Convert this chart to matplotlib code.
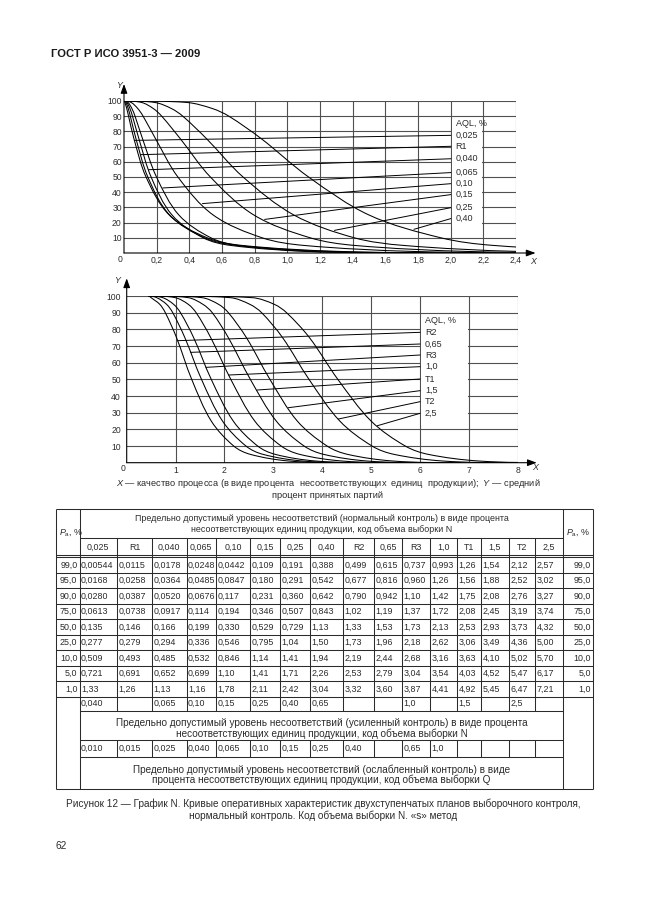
import numpy as np
import matplotlib.pyplot as plt
from matplotlib.patches import Rectangle, PathPatch
from matplotlib.path import Path

plt.rcParams["font.family"] = ["Liberation Sans", "DejaVu Sans"]
plt.rcParams["mathtext.fontset"] = "custom"
plt.rcParams["mathtext.rm"] = "Liberation Sans"
plt.rcParams["mathtext.it"] = "Liberation Sans:italic"

W, H = 646, 913
ink = "#2b2b2b"
grid_c = "#505050"

# ---------------------------------------------------------------
# data (read from the table of the page)
# ---------------------------------------------------------------
pa_levels = ["99,0", "95,0", "90,0", "75,0", "50,0", "25,0", "10,0", "5,0", "1,0"]
aql_labels = ["0,025", "R1", "0,040", "0,065", "0,10", "0,15", "0,25", "0,40",
              "R2", "0,65", "R3", "1,0", "T1", "1,5", "T2", "2,5"]

x_0025 = ["0,00544", "0,0168", "0,0280", "0,0613", "0,135", "0,277", "0,509", "0,721", "1,33"]
x_r1 = ["0,0115", "0,0258", "0,0387", "0,0738", "0,146", "0,279", "0,493", "0,691", "1,26"]
x_0040 = ["0,0178", "0,0364", "0,0520", "0,0917", "0,166", "0,294", "0,485", "0,652", "1,13"]
x_0065 = ["0,0248", "0,0485", "0,0676", "0,114", "0,199", "0,336", "0,532", "0,699", "1,16"]
x_010 = ["0,0442", "0,0847", "0,117", "0,194", "0,330", "0,546", "0,846", "1,10", "1,78"]
x_015 = ["0,109", "0,180", "0,231", "0,346", "0,529", "0,795", "1,14", "1,41", "2,11"]
x_025 = ["0,191", "0,291", "0,360", "0,507", "0,729", "1,04", "1,41", "1,71", "2,42"]
x_040 = ["0,388", "0,542", "0,642", "0,843", "1,13", "1,50", "1,94", "2,26", "3,04"]
x_r2 = ["0,499", "0,677", "0,790", "1,02", "1,33", "1,73", "2,19", "2,53", "3,32"]
x_065 = ["0,615", "0,816", "0,942", "1,19", "1,53", "1,96", "2,44", "2,79", "3,60"]
x_r3 = ["0,737", "0,960", "1,10", "1,37", "1,73", "2,18", "2,68", "3,04", "3,87"]
x_10 = ["0,993", "1,26", "1,42", "1,72", "2,13", "2,62", "3,16", "3,54", "4,41"]
x_t1 = ["1,26", "1,56", "1,75", "2,08", "2,53", "3,06", "3,63", "4,03", "4,92"]
x_15 = ["1,54", "1,88", "2,08", "2,45", "2,93", "3,49", "4,10", "4,52", "5,45"]
x_t2 = ["2,12", "2,52", "2,76", "3,19", "3,73", "4,36", "5,02", "5,47", "6,47"]
x_25 = ["2,57", "3,02", "3,27", "3,74", "4,32", "5,00", "5,70", "6,17", "7,21"]

table_cols = [x_0025, x_r1, x_0040, x_0065, x_010, x_015, x_025, x_040,
              x_r2, x_065, x_r3, x_10, x_t1, x_15, x_t2, x_25]

tightened_aql = ["0,040", "", "0,065", "0,10", "0,15", "0,25", "0,40", "0,65",
                 "", "", "1,0", "", "1,5", "", "2,5", ""]
reduced_aql = ["0,010", "0,015", "0,025", "0,040", "0,065", "0,10", "0,15", "0,25",
               "0,40", "", "0,65", "1,0", "", "", "", ""]

# where the leader lines leave the curves (Y value) and where they meet the labels
top_lead_y = [74.1, 64.7, 54.8, 42.8, 32.5, 22.1, 14.9, 15.6]
top_label_y = [77.4, 70.2, 62.0, 52.9, 45.6, 38.4, 29.8, 22.6]
bot_lead_y = [73.2, 66.2, 57.2, 52.6, 43.6, 33.0, 26.2, 22.2]
bot_label_y = [78.2, 71.2, 64.6, 57.6, 50.2, 43.2, 36.6, 29.6]

pa_values = [float(p.replace(",", ".")) for p in pa_levels]


def fnum(s):
    return float(s.replace(",", "."))


def axes_rect(x0, x1, ytop, ybot):
    return [x0 / W, 1 - ybot / H, (x1 - x0) / W, (ybot - ytop) / H]


def curve_points(col, x_start):
    xs = [x_start] + [fnum(v) for v in col]
    ys = [100.0] + pa_values
    # the curve keeps falling to zero after the last tabulated point
    xs.append(xs[-1] + 1.5 * (xs[-1] - xs[-2]))
    ys.append(0.0)
    return xs, ys


def smooth_path(xs, ys, sx, sy):
    # bezier path through the points, tangents taken in screen proportions
    P = np.column_stack([np.asarray(xs) * sx, np.asarray(ys) * sy])
    n = len(P)
    T = np.zeros_like(P)
    for i in range(n):
        if i == 0 or i == n - 1:
            T[i] = [1.0, 0.0]
        else:
            d = P[i + 1] - P[i - 1]
            T[i] = d / np.hypot(*d)
    verts = [P[0]]
    codes = [Path.MOVETO]
    for i in range(n - 1):
        L = np.hypot(*(P[i + 1] - P[i]))
        verts += [P[i] + T[i] * L / 3, P[i + 1] - T[i + 1] * L / 3, P[i + 1]]
        codes += [Path.CURVE4] * 3
    verts = np.array(verts) / [sx, sy]
    return Path(verts, codes)


def draw_chart(ax, cols, names, x_start, xmax, xticks, xlabels, lead_y, label_y,
               label_x, label_dx, box, title_y, arrow_x, arrow_y, ypad, wpx, hpx):
    ax.set_xlim(0, xmax)
    ax.set_ylim(0, 100)
    ax.patch.set_alpha(0)
    for sp in ax.spines.values():
        sp.set_visible(False)
    for y in range(10, 101, 10):
        ax.axhline(y, color=grid_c, lw=0.8, zorder=1)
    for x in xticks:
        ax.axvline(x, color=grid_c, lw=0.8, zorder=1)
    ax.add_patch(Rectangle((box[0], box[1]), box[2], box[3],
                           fc="white", ec="none", zorder=2))
    for col, ly, ty, name in zip(cols, lead_y, label_y, names):
        xs, ys = curve_points(col, x_start)
        ax.add_patch(PathPatch(smooth_path(xs, ys, wpx / xmax, hpx / 100),
                               fc="none", ec="black", lw=0.75, zorder=3))
        sx = np.interp(ly, ys[::-1], xs[::-1])
        ax.plot([sx, label_x], [ly, ty], color="black", lw=0.7, zorder=3)
        ax.text(label_x + label_dx, ty, name, fontsize=6.5, color=ink,
                va="center", ha="left", zorder=4)
    ax.text(label_x + label_dx, title_y, "AQL, %", fontsize=6.5, color=ink,
            va="center", ha="left", zorder=4)

    arrow = dict(arrowstyle="-|>,head_length=0.55,head_width=0.2",
                 color="black", lw=0.8, shrinkA=0, shrinkB=0)
    ax.annotate("", xy=(0, arrow_y), xytext=(0, 0), arrowprops=arrow,
                annotation_clip=False)
    ax.annotate("", xy=(arrow_x, 0), xytext=(0, 0), arrowprops=arrow,
                annotation_clip=False)

    ax.set_xticks(xticks)
    ax.set_xticklabels(xlabels)
    ax.set_yticks(range(10, 101, 10))
    ax.tick_params(axis="both", length=0, labelsize=6.2, colors=ink)
    ax.tick_params(axis="x", pad=2.2)
    ax.tick_params(axis="y", pad=ypad)


fig = plt.figure(figsize=(W / 100, H / 100), dpi=100)
page = fig.add_axes([0, 0, 1, 1])
page.set_xlim(0, W)
page.set_ylim(H, 0)
page.axis("off")

page.text(51, 54, "ГОСТ Р ИСО 3951-3 — 2009", fontsize=8.1, fontweight="bold",
          color="#1a1a1a", ha="left", va="center")

# ---------------------------------------------------------------
# top chart: AQL 0,025 ... 0,40
# ---------------------------------------------------------------
ax1 = fig.add_axes(axes_rect(124, 516, 101, 253))
top_ticks = np.round(np.arange(0.2, 2.41, 0.2), 1)
draw_chart(ax1, table_cols[:8], aql_labels[:8], 0.0, 2.4, top_ticks,
           [f"{v:.1f}".replace(".", ",") for v in top_ticks],
           top_lead_y, top_label_y, 2.0, 0.03, (2.006, 17, 0.188, 71), 85.1,
           2.52, 111.2, 1.6, 392, 152)
page.text(120, 259.5, "0", fontsize=6.2, color=ink, ha="center", va="center")
page.text(119, 86, "Y", fontsize=6.4, color=ink, ha="center", va="center", style="italic")
page.text(533, 261, "X", fontsize=6.4, color=ink, ha="center", va="center", style="italic")

# ---------------------------------------------------------------
# bottom chart: AQL R2 ... 2,5
# ---------------------------------------------------------------
ax2 = fig.add_axes(axes_rect(126.7, 517.7, 296, 462.7))
bot_ticks = list(range(1, 9))
draw_chart(ax2, table_cols[8:], aql_labels[8:], 0.45, 8, bot_ticks,
           [str(v) for v in bot_ticks],
           bot_lead_y, bot_label_y, 6.0, 0.1, (6.02, 22, 0.96, 66), 85.2,
           8.39, 110.6, 4.2, 391, 166.7)
page.text(122.7, 468.3, "0", fontsize=6.2, color=ink, ha="center", va="center")
page.text(117, 280.5, "Y", fontsize=6.4, color=ink, ha="center", va="center", style="italic")
page.text(535, 468, "X", fontsize=6.4, color=ink, ha="center", va="center", style="italic")

page.text(328, 484, "$X$ — качество процесса (в виде процента  несоответствующих  "
          "единиц  продукции);  $Y$ — средний",
          fontsize=6.65, color=ink, ha="center", va="center")
page.text(328, 495.5, "процент принятых партий", fontsize=6.65, color=ink,
          ha="center", va="center")

# ---------------------------------------------------------------
# table
# ---------------------------------------------------------------
cx = [56, 79.5, 117, 152, 186.5, 216, 250, 280, 310, 343, 374, 402, 430, 457,
      481, 509, 535, 563, 593]
t_top, hdr_mid, dbl1, dbl2 = 509, 538.3, 555.5, 557.5
row_y = list(np.linspace(557.5, 696.7, 10))
rA, blk1, rC, t_bot = 710.7, 740, 757.3, 789.3
lw_t = 0.75
fs_t = 6.4
fs_b = 7.2


def hline(y, x0, x1):
    page.plot([x0, x1], [y, y], color=ink, lw=lw_t, solid_capstyle="butt")


def vline(x, y0, y1):
    page.plot([x, x], [y0, y1], color=ink, lw=lw_t, solid_capstyle="butt")


# outer frame and long verticals
hline(t_top, cx[0], cx[-1])
hline(t_bot, cx[0], cx[-1])
vline(cx[0], t_top, t_bot)
vline(cx[-1], t_top, t_bot)
vline(cx[1], t_top, t_bot)
vline(cx[-2], t_top, t_bot)
hline(hdr_mid, cx[1], cx[-2])
hline(dbl1, cx[0], cx[-1])
hline(dbl2, cx[0], cx[-1])
for y in row_y[1:]:
    hline(y, cx[0], cx[-1])
for y in (rA, blk1, rC):
    hline(y, cx[1], cx[-2])
for x in cx[2:-2]:
    vline(x, hdr_mid, row_y[-1])
    vline(x, row_y[-1], rA)
    vline(x, blk1, rC)

page.text(321.5, 518.5, "Предельно допустимый уровень несоответствий (нормальный контроль) "
          "в виде процента", fontsize=fs_t, color=ink, ha="center", va="center")
page.text(321.5, 529, "несоответствующих единиц продукции, код объема выборки N",
          fontsize=fs_t, color=ink, ha="center", va="center")
page.text(59, 532, "$P_{\\mathrm{a}}$, %", fontsize=fs_t, color=ink, ha="left", va="center")
page.text(566, 533, "$P_{\\mathrm{a}}$, %", fontsize=fs_t, color=ink, ha="left", va="center")

for i, lab in enumerate(aql_labels):
    page.text((cx[i + 1] + cx[i + 2]) / 2, 547, lab, fontsize=fs_t, color=ink,
              ha="center", va="center")

for r, pa in enumerate(pa_levels):
    yc = (row_y[r] + row_y[r + 1]) / 2
    page.text(cx[1] - 2, yc, pa, fontsize=fs_t, color=ink, ha="right", va="center")
    page.text(cx[-1] - 2, yc, pa, fontsize=fs_t, color=ink, ha="right", va="center")
    for i, col in enumerate(table_cols):
        page.text(cx[i + 1] + 1.5, yc, col[r], fontsize=fs_t, color=ink,
                  ha="left", va="center")

for i, (a, b) in enumerate(zip(tightened_aql, reduced_aql)):
    page.text(cx[i + 1] + 1.5, (row_y[-1] + rA) / 2, a, fontsize=fs_t, color=ink,
              ha="left", va="center")
    page.text(cx[i + 1] + 1.5, (blk1 + rC) / 2, b, fontsize=fs_t, color=ink,
              ha="left", va="center")

page.text(321.5, 722.7, "Предельно допустимый уровень несоответствий (усиленный контроль) "
          "в виде процента", fontsize=fs_b, color=ink, ha="center", va="center")
page.text(321.5, 733.5, "несоответствующих единиц продукции, код объема выборки N",
          fontsize=fs_b, color=ink, ha="center", va="center")
page.text(321.5, 769.3, "Предельно допустимый уровень несоответствий (ослабленный контроль) "
          "в виде", fontsize=fs_b, color=ink, ha="center", va="center")
page.text(321.5, 780, "процента несоответствующих единиц продукции, код объема выборки Q",
          fontsize=fs_b, color=ink, ha="center", va="center")

page.text(323.5, 804, "Рисунок 12 — График N. Кривые оперативных характеристик "
          "двухступенчатых планов выборочного контроля,",
          fontsize=7.2, color=ink, ha="center", va="center")
page.text(323.5, 816, "нормальный контроль. Код объема выборки N. «s» метод",
          fontsize=7.2, color=ink, ha="center", va="center")
page.text(56, 846, "62", fontsize=7.3, color=ink, ha="left", va="center")

fig.savefig("out.png", dpi=100)
